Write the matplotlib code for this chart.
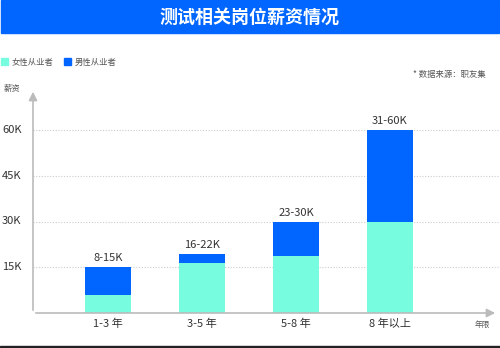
import matplotlib.pyplot as plt
from matplotlib.patches import Rectangle
from matplotlib.transforms import blended_transform_factory

plt.rcParams['font.family'] = ['Noto Sans CJK SC', 'DejaVu Sans']

# 薪资数据（单位：K）
years = ['1-3 年', '3-5 年', '5-8 年', '8 年以上']
female = [6, 16.3, 18.7, 30]
male = [9, 3.2, 11.3, 30]
ranges = ['8-15K', '16-22K', '23-30K', '31-60K']
yticks = [15, 30, 45, 60]
ytick_labels = ['15K', '30K', '45K', '60K']

c_female = '#78FCE0'
c_male = '#0066FF'

W, H = 500, 348
fig = plt.figure(figsize=(W / 100, H / 100), dpi=100)

# 顶部标题栏
fig.add_artist(Rectangle((1 / W, 1 - 33 / H), 498 / W, 33 / H,
                         transform=fig.transFigure, color=c_male, zorder=0))
fig.text(0.5, 1 - 17 / H, '测试相关岗位薪资情况', color='white', fontsize=13,
         fontweight='bold', ha='center', va='center')

# 底部深色线
fig.add_artist(Rectangle((0, 0), 1, 2.5 / H, transform=fig.transFigure,
                         color='#222222'))

# 图例
fig.add_artist(Rectangle((1 / W, 1 - 65 / H), 7 / W, 7 / H,
                         transform=fig.transFigure, color=c_female))
fig.text(12 / W, 1 - 62 / H, '女性从业者', fontsize=6, color='#555555', va='center')
fig.add_artist(Rectangle((64 / W, 1 - 65 / H), 7 / W, 7 / H,
                         transform=fig.transFigure, color=c_male))
fig.text(75 / W, 1 - 62 / H, '男性从业者', fontsize=6, color='#555555', va='center')

fig.text(486 / W, 1 - 74 / H, '* 数据来源：职友集', fontsize=6, color='#555555',
         ha='right', va='center')
fig.text(4 / W, 1 - 88 / H, '薪资', fontsize=6, color='#555555', va='center')
fig.text(475 / W, 1 - 325 / H, '年限', fontsize=5.5, color='#555555', va='center')

# 坐标区：y 轴在 x=33，底部 y=313
x0, x1 = 33, 500
ax = fig.add_axes([x0 / W, 1 - 313 / H, (x1 - x0) / W, (313 - 89) / H])
ax.set_xlim(-(108 - x0) / 94, 3 + (x1 - 390) / 94)
ax.set_ylim(0, (313 - 89) / 3.05)
ax.axis('off')

for y in yticks:
    ax.axhline(y, color='#cccccc', lw=0.8, ls=(0, (1, 1.5)), zorder=0)

xs = range(len(years))
ax.bar(xs, female, width=0.48, color=c_female, zorder=2)
ax.bar(xs, male, width=0.48, bottom=female, color=c_male, zorder=2)

for i, (f, m, r) in enumerate(zip(female, male, ranges)):
    ax.text(i, f + m + 1.3, r, ha='center', va='bottom', fontsize=8, color='#333333')
    ax.text(i, -3.7, years[i], ha='center', va='center', fontsize=8,
            color='#333333', fontweight='medium')

# y 轴刻度标签（左对齐）
tr = blended_transform_factory(fig.transFigure, ax.transData)
for y, lab in zip(yticks, ytick_labels):
    ax.text(2 / W, y, lab, transform=tr, ha='left', va='center', fontsize=8,
            color='#333333', clip_on=False)

# 带箭头的坐标轴
arrow = dict(arrowstyle='-|>,head_length=0.5,head_width=0.25', color='#bbbbbb', lw=1.2)
ax.annotate('', xy=(0, 1), xytext=(0, 0), xycoords='axes fraction', arrowprops=arrow)
ax.annotate('', xy=((498 - x0) / (x1 - x0), 0), xytext=(0, 0),
            xycoords='axes fraction', arrowprops=arrow)

fig.savefig('out.png', dpi=100, facecolor='white')
